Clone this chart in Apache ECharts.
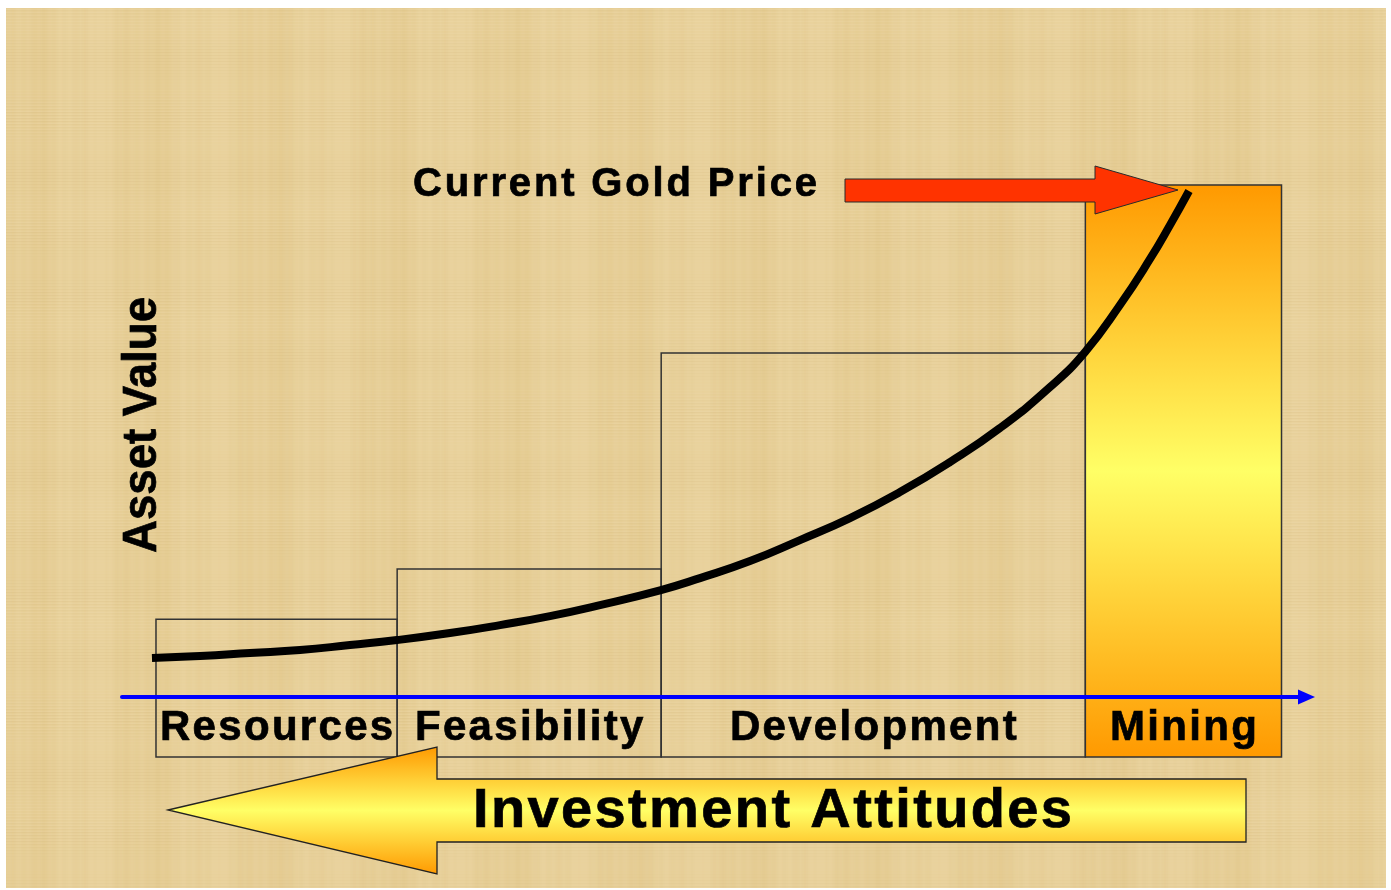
<!DOCTYPE html>
<html>
<head>
<meta charset="utf-8">
<title>Asset Value by Stage</title>
<script src="https://cdn.jsdelivr.net/npm/echarts@6/dist/echarts.min.js"></script>
<style>
html,body{margin:0;padding:0;background:#fff;}
#main{width:1391px;height:890px;}
</style>
</head>
<body>
<div id="main"></div>
<script>
// stages along the time axis (x 0..100), asset value on y
var stageNames = ['Resources', 'Feasibility', 'Development', 'Mining'];
var stageStart = [2.87, 23.23, 45.52, 81.33];
var stageEnd = [23.23, 45.52, 81.33, 97.89];
var stageTop = [15.2, 25.0, 67.2, 100];
var yBottom = -11.7;

// asset value curve
var curveX = [2.53, 6.59, 10.81, 15.03, 19.25, 23.22, 27.69, 31.91, 36.13, 40.35, 45.5, 48.8, 53.02, 57.24, 61.46, 65.68, 69.9, 74.12, 78.35, 81.3, 84.25, 86.79, 88.48, 90.08];
var curveY = [7.62, 8.01, 8.59, 9.18, 10.16, 11.13, 12.5, 14.06, 15.82, 17.97, 20.9, 23.24, 26.56, 30.66, 34.96, 40.04, 45.9, 52.54, 60.55, 67.38, 76.56, 85.55, 92.19, 98.83];

var FONT = '"Liberation Sans", Arial, sans-serif';
var measureCtx = document.createElement('canvas').getContext('2d');

/*parchment texture*/
function paperTexture(){
    var c = document.createElement('canvas');
    c.width = 360; c.height = 300;
    var ctx = c.getContext('2d');
    ctx.fillStyle = '#e9d29d';
    ctx.fillRect(0, 0, 360, 300);
    for (var i = 0; i < 360; i++) {
        var a = 0.05 + 0.04 * Math.sin(i * 0.0523) + 0.03 * Math.sin(i * 0.157 + 1.3) + 0.02 * Math.sin(i * 0.61);
        if (a > 0) {
            ctx.fillStyle = 'rgba(200,160,70,' + a.toFixed(3) + ')';
            ctx.fillRect(i, 0, 1, 300);
        }
    }
    for (var j = 0; j < 300; j += 3) {
        var b = 0.05 + 0.04 * Math.sin(j * 0.0628 + 0.5);
        ctx.fillStyle = 'rgba(255,244,215,' + Math.max(b, 0).toFixed(3) + ')';
        ctx.fillRect(0, j, 360, 1);
        var d = 0.03 + 0.03 * Math.sin(j * 0.1047 + 2);
        ctx.fillStyle = 'rgba(170,130,60,' + Math.max(d, 0).toFixed(3) + ')';
        ctx.fillRect(0, j + 1, 360, 1);
    }
    return c;
}

function charWidths(str, size){
    measureCtx.font = 'bold ' + size + 'px ' + FONT;
    return str.split('').map(function(ch){ return measureCtx.measureText(ch).width; });
}
// spacing so that the text spans the given width
function fitSpacing(str, size, width){
    var natural = charWidths(str, size).reduce(function(s, w){ return s + w; }, 0);
    return (width - natural) / (str.length - 1);
}

/*letter-spaced bold text, one element per char*/
function spacedText(str, x, midY, size, spacing, anchor, z){
    var font = 'bold ' + size + 'px ' + FONT;
    var chars = str.split('');
    var ws = charWidths(str, size);
    var total = ws.reduce(function(s, w){ return s + w; }, 0) + spacing * (chars.length - 1);
    var left = anchor === 'center' ? x - total / 2 : x;
    var els = [];
    chars.forEach(function(ch, k){
        els.push({
            type: 'text', x: left, y: midY, z: z || 6, silent: true,
            style: {text: ch, font: font, fill: '#000', stroke: '#000', lineWidth: 0.7,
                    align: 'left', verticalAlign: 'middle', textAlign: 'left', textVerticalAlign: 'middle'}
        });
        left += ws[k] + spacing;
    });
    return els;
}

function warmGradient(){
    return new echarts.graphic.LinearGradient(0, 0, 0, 1, [
        {offset: 0, color: '#ff9900'},
        {offset: 0.5, color: '#ffff66'},
        {offset: 1, color: '#ff9900'}
    ]);
}

var boxData = stageNames.map(function(n, i){
    return [stageStart[i], stageEnd[i], stageTop[i], i];
});
var curveData = curveX.map(function(x, i){ return [x, curveY[i]]; });

var chart = echarts.init(document.getElementById('main'), null, {renderer: 'canvas'});

measureCtx.font = 'bold 49px ' + FONT;
var yTitleScale = 256 / measureCtx.measureText('Asset Value').width;

var graphics = [
    {type: 'rect', z: -100, silent: true, shape: {x: 6, y: 8, width: 1380, height: 880},
     style: {fill: {image: paperTexture(), repeat: 'repeat'}}},
    // red arrow pointing at the top of the curve
    {type: 'polygon', z: 3, silent: true,
     shape: {points: [[845, 179], [1095, 179], [1095, 166], [1178, 190], [1095, 214], [1095, 202], [845, 202]]},
     style: {fill: '#ff3300', stroke: '#2a2a2a', lineWidth: 1}},
    // big arrow pointing left
    {type: 'polygon', z: 3, silent: true,
     shape: {points: [[168, 810], [437, 747], [437, 779], [1246, 779], [1246, 842], [437, 842], [437, 874]]},
     style: {fill: warmGradient(), stroke: '#222', lineWidth: 1.3}},
    {type: 'text', x: 142.5, y: 425, rotation: Math.PI / 2, scaleX: yTitleScale, z: 6, silent: true,
     style: {text: 'Asset Value', font: 'bold 49px ' + FONT, fill: '#000', stroke: '#000', lineWidth: 0.7,
             align: 'center', verticalAlign: 'middle', textAlign: 'center', textVerticalAlign: 'middle'}}
];
graphics = graphics
    .concat(spacedText('Current Gold Price', 413, 185, 40, fitSpacing('Current Gold Price', 40, 404), 'left'))
    .concat(spacedText('Investment Attitudes', 473, 812, 56, fitSpacing('Investment Attitudes', 56, 599), 'left'));

var option = {
    animation: false,
    backgroundColor: 'transparent',
    grid: {left: 122, right: 84.5, top: 185, bottom: 133},
    xAxis: {
        type: 'value', min: 0, max: 100, z: 5,
        axisLine: {show: true, onZero: true, symbol: ['none', 'triangle'], symbolSize: [15, 17],
                   lineStyle: {color: '#0000ff', width: 4}},
        axisTick: {show: false}, axisLabel: {show: false}, splitLine: {show: false}
    },
    yAxis: {
        type: 'value', min: yBottom, max: 100,
        axisLine: {show: false}, axisTick: {show: false}, axisLabel: {show: false}, splitLine: {show: false}
    },
    graphic: graphics,
    series: [{
        type: 'custom', z: 2, silent: true,
        data: boxData,
        renderItem: function(params, api){
            var i = api.value(3);
            var p0 = api.coord([api.value(0), api.value(2)]);
            var p1 = api.coord([api.value(1), yBottom]);
            var p2 = api.coord([0, 0]);
            var isMine = stageNames[i] === 'Mining';
            var children = [{
                type: 'rect',
                shape: {x: p0[0], y: p0[1], width: p1[0] - p0[0], height: p1[1] - p0[1]},
                style: {fill: isMine ? warmGradient() : 'none', stroke: '#333', lineWidth: 1.5}
            }];
            var cx = (p0[0] + p1[0]) / 2;
            var cy = (p2[1] + p1[1]) / 2 + 1;
            children = children.concat(spacedText(stageNames[i], cx, cy, 42, 2.3, 'center'));
            return {type: 'group', children: children};
        }
    }, {
        type: 'line', z: 4, silent: true,
        data: curveData,
        smooth: 0.5,
        showSymbol: false,
        lineStyle: {color: '#000', width: 8, cap: 'butt'}
    }]
};
chart.setOption(option);
window.addEventListener('resize', function(){
    chart.resize();
});
</script>
</body>
</html>
